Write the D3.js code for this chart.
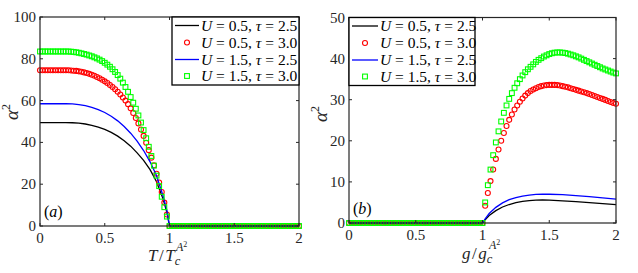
<!DOCTYPE html>
<html><head><meta charset="utf-8">
<script src="https://cdn.jsdelivr.net/npm/d3@7"></script>
<style>html,body{margin:0;padding:0;background:#fff;}svg{display:block;}</style>
</head><body>
<svg id="chart" width="638" height="273"></svg>
<script>
// ---------- DATA ----------
const gridX = [0,0.02,0.04,0.06,0.08,0.1,0.12,0.14,0.16,0.18,0.2,0.22,0.24,0.26,0.28,0.3,0.32,0.34,0.36,0.38,0.4,0.42,0.44,0.46,0.48,0.5,0.52,0.54,0.56,0.58,0.6,0.62,0.64,0.66,0.68,0.7,0.72,0.74,0.76,0.78,0.8,0.82,0.84,0.86,0.88,0.9,0.92,0.94,0.96,0.98,1,1.02,1.04,1.06,1.08,1.1,1.12,1.14,1.16,1.18,1.2,1.22,1.24,1.26,1.28,1.3,1.32,1.34,1.36,1.38,1.4,1.42,1.44,1.46,1.48,1.5,1.52,1.54,1.56,1.58,1.6,1.62,1.64,1.66,1.68,1.7,1.72,1.74,1.76,1.78,1.8,1.82,1.84,1.86,1.88,1.9,1.92,1.94,1.96,1.98,2];

// Panel (a): alpha^2 vs T/Tc
const lineXa = [0,0.1,0.2,0.25,0.3,0.35,0.4,0.45,0.5,0.55,0.6,0.65,0.7,0.75,0.8,0.85,0.9,0.95,0.98,1.0,2.0];
const aBlack = [49.5,49.5,49.5,49.4,49.2,48.8,48.2,47.3,46.2,44.8,43.0,40.8,38.2,35.0,31.4,27.0,21.2,13.0,6.5,0,0];
const aBlue  = [58.5,58.5,58.5,58.4,58.1,57.6,56.8,55.7,54.3,52.5,50.3,47.6,44.4,40.6,36.1,30.7,24.0,14.5,7.5,0,0];
const aRed = [74.5,74.5,74.5,74.5,74.5,74.5,74.5,74.5,74.5,74.5,74.5,
  74.5,74.4,74.3,74.2,74.0,73.8,73.5,73.2,72.8,72.4,71.9,71.3,70.7,70.0,69.2,68.4,67.5,66.5,65.4,64.2,62.9,61.5,60.0,58.3,56.3,54.1,51.7,49.1,46.2,43.1,39.8,36.3,32.7,29.0,25.0,20.8,16.3,11.2,5.5,
  0,
  0,0,0,0,0,0,0,0,0,0,0,0,0,0,0,0,0,0,0,0,0,0,0,0,0,0,0,0,0,0,0,0,0,0,0,0,0,0,0,0,0,0,0,0,0,0,0,0,0,0];
const aGreen = [83.5,83.5,83.5,83.5,83.5,83.5,83.5,83.5,83.5,83.5,83.5,83.5,
  83.4,83.3,83.1,82.9,82.6,82.3,82.0,81.6,81.2,80.7,80.2,79.6,78.9,78.1,77.2,76.2,75.0,73.7,72.2,70.5,68.6,66.5,64.2,61.7,59.0,56.1,52.9,49.5,45.9,42.0,37.9,33.5,28.9,24.1,19.1,14.0,9.0,4.5,
  0,
  0,0,0,0,0,0,0,0,0,0,0,0,0,0,0,0,0,0,0,0,0,0,0,0,0,0,0,0,0,0,0,0,0,0,0,0,0,0,0,0,0,0,0,0,0,0,0,0,0,0];

// Panel (b): alpha^2 vs g/gc
const lineXb = [0,1.0,1.02,1.05,1.1,1.15,1.2,1.25,1.3,1.35,1.4,1.45,1.5,1.6,1.7,1.8,1.9,2.0];
const bBlack = [0,0,0.8,1.8,3.0,3.9,4.5,4.95,5.25,5.45,5.55,5.6,5.55,5.4,5.2,4.95,4.7,4.45];
const bBlue  = [0,0,1.0,2.3,3.8,4.9,5.7,6.2,6.55,6.8,6.95,7.0,7.0,6.9,6.65,6.4,6.1,5.8];
const bRed = [0,0,0,0,0,0,0,0,0,0,0,0,0,0,0,0,0,0,0,0,0,0,0,0,0,0,0,0,0,0,0,0,0,0,0,0,0,0,0,0,0,0,0,0,0,0,0,0,0,0,0,
  4.2,7.3,10.2,13.0,15.6,17.9,20.0,21.9,23.6,25.1,
  26.4,27.6,28.6,29.5,30.3,31.0,31.6,32.1,32.5,32.8,
  33.1,33.3,33.45,33.55,33.6,33.6,33.6,33.55,33.45,33.3,
  33.15,33.0,32.8,32.6,32.4,32.2,32.0,31.8,31.6,31.4,
  31.15,30.9,30.65,30.4,30.2,29.95,29.7,29.45,29.2,29.0];
const bGreen = [0,0,0,0,0,0,0,0,0,0,0,0,0,0,0,0,0,0,0,0,0,0,0,0,0,0,0,0,0,0,0,0,0,0,0,0,0,0,0,0,0,0,0,0,0,0,0,0,0,0,0,
  5.0,9.2,13.0,16.5,19.6,22.3,24.7,26.8,28.6,30.2,
  31.6,32.9,34.0,35.0,35.9,36.7,37.4,38.0,38.6,39.2,
  39.7,40.1,40.5,40.8,41.1,41.3,41.45,41.5,41.5,41.45,
  41.35,41.2,41.0,40.8,40.55,40.3,40.0,39.7,39.4,39.1,
  38.8,38.5,38.2,37.9,37.6,37.35,37.1,36.85,36.6,36.4];

const xTicks = [0,0.5,1,1.5,2];
const xTickLabels = ["0","0.5","1","1.5","2"];
const yTicksA = [0,20,40,60,80,100];
const yTicksB = [0,10,20,30,40,50];
const legendU = ["0.5","0.5","1.5","1.5"];
const legendTau = ["2.5","3.0","2.5","3.0"];

// ---------- DRAW ----------
const svg = d3.select("#chart");
const FONT = "Liberation Serif";
const AX = "#262626";

function panel(cfg) {
  const x = d3.scaleLinear().domain([0,2]).range([cfg.x0, cfg.x1]);
  const y = d3.scaleLinear().domain([0,cfg.ymax]).range([cfg.y0, cfg.y1]);
  const g = svg.append("g");

  const line = d3.line().x(d => x(d[0])).y(d => y(d[1]));
  const zip = (xs, ys) => xs.map((v,i) => [v, ys[i]]);

  g.append("path").datum(zip(cfg.lx, cfg.black)).attr("d", line)
    .attr("fill","none").attr("stroke","#000").attr("stroke-width",1.3);
  g.append("g").selectAll("circle").data(zip(gridX, cfg.red)).join("circle")
    .attr("cx", d => x(d[0])).attr("cy", d => y(d[1])).attr("r", 2.5)
    .attr("fill","none").attr("stroke","#ff0000").attr("stroke-width",1.1);
  g.append("path").datum(zip(cfg.lx, cfg.blue)).attr("d", line)
    .attr("fill","none").attr("stroke","#0000ff").attr("stroke-width",1.3);
  g.append("g").selectAll("rect").data(zip(gridX, cfg.green)).join("rect")
    .attr("x", d => x(d[0]) - 2.4).attr("y", d => y(d[1]) - 2.4)
    .attr("width", 4.8).attr("height", 4.8)
    .attr("fill","none").attr("stroke","#00ff00").attr("stroke-width",1.1);

  g.append("rect").attr("x", cfg.x0).attr("y", cfg.y1)
    .attr("width", cfg.x1 - cfg.x0).attr("height", cfg.y0 - cfg.y1)
    .attr("fill","none").attr("stroke",AX).attr("stroke-width",1.2);

  const tl = 3;
  xTicks.forEach((t,i) => {
    const px = x(t);
    g.append("line").attr("x1",px).attr("x2",px).attr("y1",cfg.y0).attr("y2",cfg.y0-tl).attr("stroke",AX).attr("stroke-width",1);
    g.append("line").attr("x1",px).attr("x2",px).attr("y1",cfg.y1).attr("y2",cfg.y1+tl).attr("stroke",AX).attr("stroke-width",1);
    g.append("text").attr("x",px).attr("y",cfg.y0+17).attr("text-anchor","middle")
      .attr("font-family",FONT).attr("font-size",15).attr("fill",AX).text(xTickLabels[i]);
  });
  cfg.yTicks.forEach(t => {
    const py = y(t);
    g.append("line").attr("x1",cfg.x0).attr("x2",cfg.x0+tl).attr("y1",py).attr("y2",py).attr("stroke",AX).attr("stroke-width",1);
    g.append("line").attr("x1",cfg.x1).attr("x2",cfg.x1-tl).attr("y1",py).attr("y2",py).attr("stroke",AX).attr("stroke-width",1);
    g.append("text").attr("x",cfg.x0-4).attr("y",py+5).attr("text-anchor","end")
      .attr("font-family",FONT).attr("font-size",15).attr("fill",AX).text(String(t));
  });

  // y label alpha^2
  const yl = g.append("text").attr("transform",`translate(${cfg.ylx},${cfg.yly}) rotate(-90)`)
    .attr("text-anchor","middle").attr("font-family",FONT).attr("font-size",19).attr("fill",AX);
  yl.append("tspan").attr("font-style","italic").text("α");
  yl.append("tspan").attr("font-size",12).attr("dy",-8).text("2");

  // x label (main part + separate superscript piece)
  const base = cfg.y0 + cfg.xlb;
  const xl = g.append("text").attr("x",cfg.xlx).attr("y",base)
    .attr("font-family",FONT).attr("font-size",17).attr("fill",AX);
  xl.append("tspan").attr("font-style","italic").text(cfg.v);
  xl.append("tspan").attr("dx",1.5).text("/");
  xl.append("tspan").attr("dx",1.5).attr("font-style","italic").text(cfg.v);
  xl.append("tspan").attr("font-style","italic").attr("font-size",12.5).attr("dy",4).text("c");
  const supX = cfg.xlx + cfg.supOff;
  const sp = g.append("text").attr("x",supX).attr("y",base-10)
    .attr("font-family",FONT).attr("font-size",12).attr("fill",AX);
  sp.append("tspan").attr("font-style","italic").text("A");
  sp.append("tspan").attr("font-size",8).attr("dy",-4).text("2");

  // panel label
  const pl = g.append("text").attr("x",cfg.x0+4).attr("y",cfg.y0-9)
    .attr("font-family",FONT).attr("font-size",16).attr("fill","#000");
  pl.append("tspan").text("(");
  pl.append("tspan").attr("font-style","italic").text(cfg.tag);
  pl.append("tspan").text(")");

  // legend
  const L = cfg.leg;
  g.append("rect").attr("x",L.x).attr("y",L.y).attr("width",L.w).attr("height",L.h)
    .attr("fill","#fff").attr("stroke","#000").attr("stroke-width",1.3);
  const rows = [L.y+8.5, L.y+25.5, L.y+42.5, L.y+59];
  const colors = ["#000","#ff0000","#0000ff","#00ff00"];
  rows.forEach((ry,i) => {
    const mx = (L.sx0+L.sx1)/2;
    if (i===0 || i===2) {
      g.append("line").attr("x1",L.sx0).attr("x2",L.sx1).attr("y1",ry).attr("y2",ry)
        .attr("stroke",colors[i]).attr("stroke-width",1.3);
    } else if (i===1) {
      g.append("circle").attr("cx",mx).attr("cy",ry).attr("r",2.5).attr("fill","none")
        .attr("stroke","#ff0000").attr("stroke-width",1.1);
    } else {
      g.append("rect").attr("x",mx-2.4).attr("y",ry-2.4).attr("width",4.8).attr("height",4.8)
        .attr("fill","none").attr("stroke","#00ff00").attr("stroke-width",1.1);
    }
    const t = g.append("text").attr("x",L.tx).attr("y",ry+5)
      .attr("font-family",FONT).attr("font-size",15.5).attr("fill","#000");
    t.append("tspan").attr("font-style","italic").text("U");
    t.append("tspan").text(" = " + legendU[i] + ", ");
    t.append("tspan").attr("font-style","italic").text("τ");
    t.append("tspan").text(" = " + legendTau[i]);
  });
}

panel({x0:40, x1:299, y0:226, y1:17, ymax:100, yTicks:yTicksA,
  lx:lineXa, black:aBlack, blue:aBlue, red:aRed, green:aGreen,
  ylx:18, yly:112, xlx:148, xlb:35, supOff:28, v:"T", tag:"a",
  leg:{x:172, y:17, w:127, h:68, sx0:175, sx1:199, tx:201}});
panel({x0:349, x1:616, y0:223, y1:17.5, ymax:50, yTicks:yTicksB,
  lx:lineXb, black:bBlack, blue:bBlue, red:bRed, green:bGreen,
  ylx:327, yly:114, xlx:462, xlb:36, supOff:27, v:"g", tag:"b",
  leg:{x:349, y:17.5, w:126, h:68, sx0:352, sx1:378, tx:380}});
</script>
</body></html>
